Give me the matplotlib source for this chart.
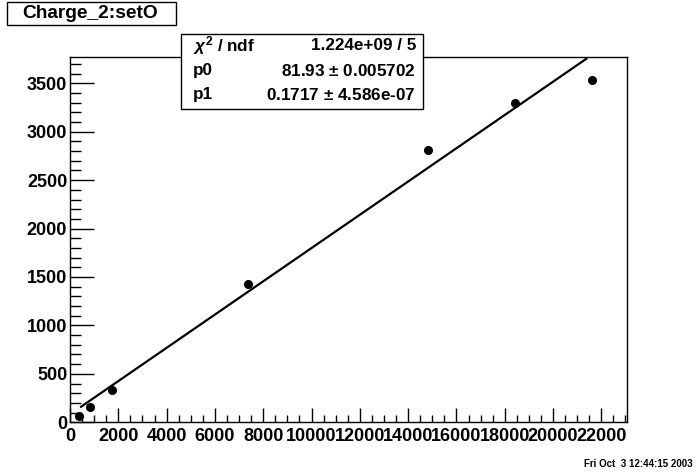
import numpy as np
import matplotlib
matplotlib.use("Agg")
import matplotlib.pyplot as plt
from matplotlib.ticker import MultipleLocator

plt.rcParams['font.family'] = ['Liberation Sans', 'DejaVu Sans']
plt.rcParams['font.weight'] = 'bold'
plt.rcParams['mathtext.fontset'] = 'custom'
plt.rcParams['mathtext.rm'] = 'Liberation Sans:bold'
plt.rcParams['mathtext.it'] = 'Liberation Sans:italic:bold'

# data
x = [373, 828, 1752, 7358, 14812, 18427, 21627]
y = [65, 161, 333, 1428, 2811, 3300, 3534]

# fit parameters and drawn range
p0 = 81.93
p1 = 0.1717
fit_range = [455, 21380]

title = "Charge_2:setO"
stat_names = [r"$\chi^2$ / ndf", "p0", "p1"]
stat_values = ["1.224e+09 / 5", "81.93 $\\pm$ 0.005702", "0.1717 $\\pm$ 4.586e-07"]
date_text = "Fri Oct  3 12:44:15 2003"

fig = plt.figure(figsize=(6.96, 4.72), dpi=100)
ax = fig.add_axes([70/696, 1 - 422.3/472, (626.7-70)/696, (422.3-57.3)/472])

xf = np.array(fit_range)
ax.plot(xf, p0 + p1*xf, color='black', lw=1.6)
ax.plot(x, y, 'o', color='black', markersize=5.5)

ax.set_xlim(0, 23050)
ax.set_ylim(0, 3768)
ax.xaxis.set_major_locator(MultipleLocator(2000))
ax.xaxis.set_minor_locator(MultipleLocator(500))
ax.yaxis.set_major_locator(MultipleLocator(500))
ax.yaxis.set_minor_locator(MultipleLocator(100))
ax.tick_params(which='both', top=False, right=False)
ax.tick_params(axis='x', which='major', direction='in', length=10, width=1, labelsize=13, pad=4)
ax.tick_params(axis='x', which='minor', direction='in', length=5, width=1)
ax.tick_params(axis='y', which='major', direction='in', length=17, width=1, labelsize=13, pad=2)
ax.tick_params(axis='y', which='minor', direction='in', length=8, width=1)
for lab in ax.get_xticklabels() + ax.get_yticklabels():
    lab.set_fontweight('bold')
for s in ax.spines.values():
    s.set_linewidth(1)

# title box
fig.patches.append(plt.Rectangle((7/696, 1 - 25/472), 169/696, 23/472, transform=fig.transFigure,
                                 fill=False, ec='black', lw=1))
fig.text(90/696, 1 - 14/472, title, ha='center', va='center', fontsize=13.8, fontweight='bold')

# stats box
fig.patches.append(plt.Rectangle((181/696, 1 - 109/472), 242/696, 75/472, transform=fig.transFigure,
                                 fc='white', ec='black', lw=1, zorder=5))
for i, (n, v) in enumerate(zip(stat_names, stat_values)):
    yy = 1 - (46 + 24.5*i)/472
    fig.text(193/696, yy, n, ha='left', va='center', fontsize=12.3, fontweight='bold', zorder=6)
    fig.text(416/696, yy, v, ha='right', va='center', fontsize=12.3, fontweight='bold', zorder=6)

fig.text(693/696, 1 - 464/472, date_text, ha='right', va='center', fontsize=7, fontweight='bold')

fig.savefig("out.png", dpi=100)
